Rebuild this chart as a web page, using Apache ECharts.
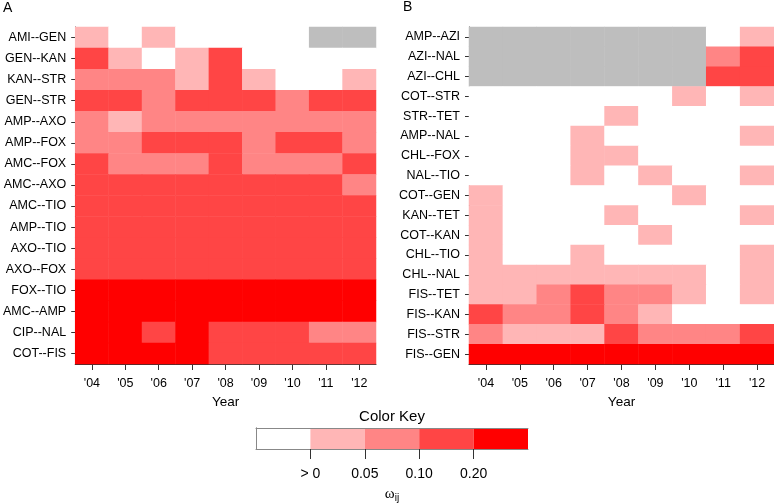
<!DOCTYPE html>
<html>
<head>
<meta charset="utf-8">
<script src="https://cdn.jsdelivr.net/npm/echarts@6/dist/echarts.min.js"></script>
<style>html,body{margin:0;padding:0;background:#fff}#c{width:774px;height:504px}</style>
</head>
<body>
<div id="c"></div>
<script>
// ---- data ----
const years = ["'04", "'05", "'06", "'07", "'08", "'09", "'10", "'11", "'12"];
// levels: -1 = NA (gray), 0 = 0, 1 = >0, 2 = >=0.05, 3 = >=0.10, 4 = >=0.20
const rowsA = ['AMI--GEN','GEN--KAN','KAN--STR','GEN--STR','AMP--AXO','AMP--FOX','AMC--FOX','AMC--AXO',
  'AMC--TIO','AMP--TIO','AXO--TIO','AXO--FOX','FOX--TIO','AMC--AMP','CIP--NAL','COT--FIS'];
const levelsA = [
  [1,0,1,0,0,0,0,-1,-1],
  [3,1,0,1,3,0,0,0,0],
  [2,2,2,1,3,1,0,0,1],
  [3,3,2,3,3,3,2,3,3],
  [2,1,2,2,2,2,2,2,2],
  [2,2,3,3,3,2,3,3,2],
  [3,2,2,2,3,2,2,2,3],
  [3,3,3,3,3,3,3,3,2],
  [3,3,3,3,3,3,3,3,3],
  [3,3,3,3,3,3,3,3,3],
  [3,3,3,3,3,3,3,3,3],
  [3,3,3,3,3,3,3,3,3],
  [4,4,4,4,4,4,4,4,4],
  [4,4,4,4,4,4,4,4,4],
  [4,4,3,4,3,3,3,2,2],
  [4,4,4,4,3,3,3,3,3]
];
const rowsB = ['AMP--AZI','AZI--NAL','AZI--CHL','COT--STR','STR--TET','AMP--NAL','CHL--FOX','NAL--TIO',
  'COT--GEN','KAN--TET','COT--KAN','CHL--TIO','CHL--NAL','FIS--TET','FIS--KAN','FIS--STR','FIS--GEN'];
const levelsB = [
  [-1,-1,-1,-1,-1,-1,-1,0,1],
  [-1,-1,-1,-1,-1,-1,-1,2,3],
  [-1,-1,-1,-1,-1,-1,-1,3,3],
  [0,0,0,0,0,0,1,0,1],
  [0,0,0,0,1,0,0,0,0],
  [0,0,0,1,0,0,0,0,1],
  [0,0,0,1,1,0,0,0,0],
  [0,0,0,1,0,1,0,0,1],
  [1,0,0,0,0,0,1,0,0],
  [1,0,0,0,1,0,0,0,1],
  [1,0,0,0,0,1,0,0,0],
  [1,0,0,1,0,0,0,0,1],
  [1,1,1,1,1,1,1,0,1],
  [1,1,2,3,2,2,1,0,1],
  [3,2,2,3,2,1,0,0,0],
  [2,1,1,1,3,2,2,2,3],
  [4,4,4,4,4,4,4,4,4]
];
const keyLevels = [0, 1, 2, 3, 4];
const keyTickValues = [1, 2, 3, 4];
const keyTickLabels = ['> 0', '0.05', '0.10', '0.20'];

// ---- styles ----
const levelColors = {'-1': '#BEBEBE', '0': '#FFFFFF', '1': '#FFB6B6', '2': '#FF8585', '3': '#FF4545', '4': '#FF0000'};
const FONT = 'Liberation Sans, Arial, sans-serif';

function toCells(levels) {
  const out = [];
  levels.forEach((row, i) => row.forEach((v, j) => out.push([j, i, v])));
  return out;
}

const axisTxt = {color: '#000', fontFamily: FONT, fontSize: 12.5};
function xAxisFor(gi) {
  return {
    type: 'category', gridIndex: gi, data: years, position: 'bottom',
    axisLine: {show: true, lineStyle: {color: '#333', width: 1}},
    axisTick: {show: true, alignWithLabel: true, length: 6, lineStyle: {color: '#333'}},
    axisLabel: Object.assign({margin: 13}, axisTxt),
    name: 'Year', nameLocation: 'middle', nameGap: 26,
    nameTextStyle: {color: '#000', fontFamily: FONT, fontSize: 13.5},
    splitLine: {show: false}
  };
}
function yAxisFor(gi, rows) {
  return {
    type: 'category', gridIndex: gi, data: rows, inverse: true,
    axisLine: {show: true, lineStyle: {color: '#333', width: 1}},
    axisTick: {show: true, alignWithLabel: true, length: 4, lineStyle: {color: '#333'}},
    axisLabel: Object.assign({margin: 9}, axisTxt),
    splitLine: {show: false}
  };
}

const pieces = Object.keys(levelColors).map(k => ({value: Number(k), color: levelColors[k]}));
const panelTitle = {fontFamily: FONT, fontSize: 14, fontWeight: 'normal', color: '#000'};

const option = {
  animation: false,
  backgroundColor: '#fff',
  title: [
    {text: 'A', left: 3, top: 1, padding: 0, textStyle: panelTitle},
    {text: 'B', left: 403, top: 0, padding: 0, textStyle: panelTitle}
  ],
  grid: [
    {left: 71, top: 27, width: 305, height: 337},
    {left: 469, top: 27, width: 305, height: 337},
    {left: 256, top: 428, width: 272, height: 21}
  ],
  xAxis: [
    xAxisFor(0),
    xAxisFor(1),
    {
      type: 'value', gridIndex: 2, min: 0, max: 5, interval: 1, position: 'bottom', z: 10,
      axisLine: {show: true, lineStyle: {color: '#888', width: 1}},
      axisTick: {show: true, length: 10, customValues: keyTickValues, lineStyle: {color: '#333'}},
      axisLabel: {customValues: keyTickValues, margin: 18, color: '#000', fontFamily: FONT, fontSize: 14,
        formatter: v => { const i = keyTickValues.indexOf(v); return i >= 0 ? keyTickLabels[i] : ''; }},
      splitLine: {show: false},
      name: '{w|ω}{s|ij}', nameLocation: 'middle', nameGap: 36,
      nameTextStyle: {rich: {
        w: {fontFamily: 'Liberation Serif, serif', fontSize: 15, color: '#000'},
        s: {fontFamily: FONT, fontSize: 10, color: '#000', padding: [8, 0, 0, 0]}
      }}
    },
    {
      type: 'value', gridIndex: 2, min: 0, max: 5, position: 'top', z: 10,
      axisLine: {show: true, lineStyle: {color: '#888', width: 1}},
      axisTick: {show: false}, axisLabel: {show: false}, splitLine: {show: false},
      name: 'Color Key', nameLocation: 'middle', nameGap: 4,
      nameTextStyle: {color: '#000', fontFamily: FONT, fontSize: 15}
    }
  ],
  yAxis: [
    yAxisFor(0, rowsA),
    yAxisFor(1, rowsB),
    {type: 'category', gridIndex: 2, data: ['key'], position: 'left', z: 10,
      axisLine: {show: true, lineStyle: {color: '#888'}}, axisTick: {show: false}, axisLabel: {show: false}},
    {type: 'category', gridIndex: 2, data: ['key'], position: 'right', z: 10,
      axisLine: {show: true, lineStyle: {color: '#888'}}, axisTick: {show: false}, axisLabel: {show: false}}
  ],
  visualMap: {
    type: 'piecewise', show: false, dimension: 2, seriesIndex: [0, 1], pieces: pieces
  },
  series: [
    {type: 'heatmap', xAxisIndex: 0, yAxisIndex: 0, data: toCells(levelsA), emphasis: {disabled: true}},
    {type: 'heatmap', xAxisIndex: 1, yAxisIndex: 1, data: toCells(levelsB), emphasis: {disabled: true}}
  ].concat(keyLevels.map(l => ({
    type: 'bar', xAxisIndex: 2, yAxisIndex: 2, stack: 'key', barWidth: '100%',
    data: [1], itemStyle: {color: levelColors[String(l)]}, silent: true
  })))
};

const chart = echarts.init(document.getElementById('c'), null, {renderer: 'canvas'});
chart.setOption(option);
</script>
</body>
</html>
